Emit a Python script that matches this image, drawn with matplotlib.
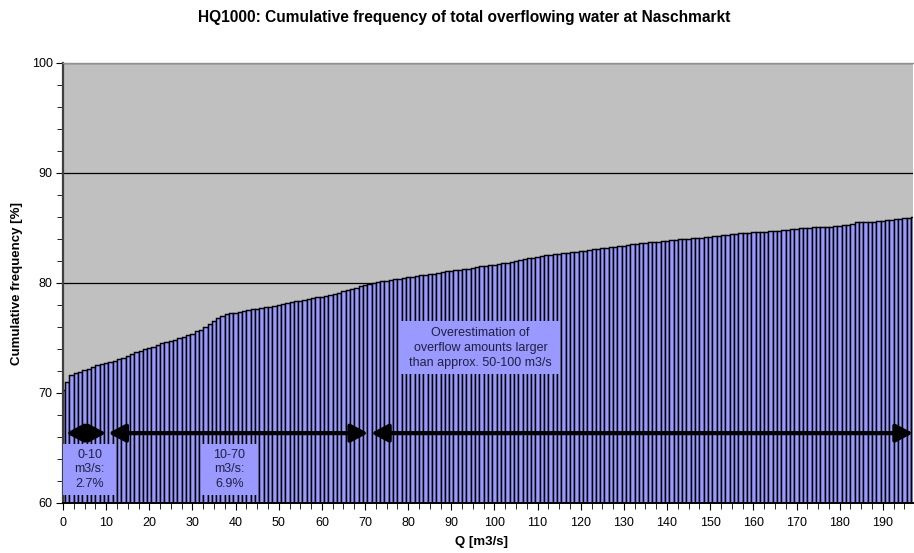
import matplotlib.pyplot as plt
from matplotlib.patches import Rectangle
from matplotlib.ticker import MultipleLocator

plt.rcParams['font.family'] = ['Liberation Sans', 'DejaVu Sans']

# cumulative frequency [%] per Q class (1 m3/s steps, 0..197)
freq = [
    70.3, 71.0, 71.6, 71.8, 71.9, 72.05, 72.2, 72.35, 72.5, 72.6,
    72.75, 72.85, 72.95, 73.1, 73.2, 73.4, 73.55, 73.7, 73.85, 74.0,
    74.1, 74.2, 74.35, 74.5, 74.65, 74.75, 74.85, 75.0, 75.1, 75.25,
    75.4, 75.6, 75.75, 76.0, 76.25, 76.5, 76.85, 77.0, 77.15, 77.25,
    77.3, 77.4, 77.45, 77.5, 77.6, 77.65, 77.75, 77.8, 77.85, 77.95,
    78.0, 78.1, 78.15, 78.25, 78.35, 78.4, 78.45, 78.55, 78.6, 78.7,
    78.75, 78.85, 78.9, 79.0, 79.1, 79.25, 79.35, 79.45, 79.55, 79.7,
    79.8, 79.9, 80.0, 80.05, 80.15, 80.2, 80.3, 80.35, 80.4, 80.45,
    80.5, 80.55, 80.6, 80.7, 80.75, 80.8, 80.85, 80.9, 81.0, 81.05,
    81.1, 81.15, 81.2, 81.25, 81.3, 81.35, 81.45, 81.5, 81.55, 81.6,
    81.65, 81.75, 81.8, 81.85, 81.95, 82.0, 82.1, 82.15, 82.25, 82.3,
    82.35, 82.45, 82.5, 82.55, 82.6, 82.65, 82.7, 82.75, 82.8, 82.85,
    82.9, 82.95, 83.0, 83.05, 83.1, 83.15, 83.2, 83.25, 83.3, 83.35,
    83.4, 83.45, 83.5, 83.55, 83.6, 83.65, 83.7, 83.72, 83.75, 83.8,
    83.85, 83.9, 83.93, 83.96, 84.0, 84.0, 84.05, 84.06, 84.1, 84.15,
    84.2, 84.25, 84.3, 84.35, 84.4, 84.43, 84.45, 84.5, 84.52, 84.55,
    84.6, 84.62, 84.65, 84.67, 84.7, 84.72, 84.75, 84.8, 84.85, 84.9,
    84.94, 84.96, 85.0, 85.02, 85.05, 85.07, 85.1, 85.1, 85.12, 85.15,
    85.2, 85.25, 85.3, 85.4, 85.5, 85.52, 85.55, 85.56, 85.58, 85.6,
    85.67, 85.7, 85.75, 85.8, 85.85, 85.88, 85.95, 86.0,
]
q = list(range(len(freq)))

# range arrows (start, end in m3/s)
arrows = [(0.7, 10.0), (10.5, 70.7), (71.4, 197.0)]
note_texts = ['0-10\nm3/s:\n2.7%', '10-70\nm3/s:\n6.9%',
              'Overestimation of\noverflow amounts larger\nthan approx. 50-100 m3/s']
# note boxes: x0, x1, y0, y1 (data units)
note_boxes = [(0, 12.3, 60.7, 65.4), (32.0, 45.2, 60.7, 65.4), (78.3, 115.2, 71.7, 76.5)]

bar_col = '#9999FF'

fig = plt.figure(figsize=(9.14, 5.53), dpi=100)
ax = fig.add_axes([63 / 914, 50 / 553, 850 / 914, 440 / 553])
ax.set_facecolor('#C0C0C0')

ax.bar(q, [f - 60 for f in freq], bottom=60, width=1.0, color=bar_col,
       edgecolor='black', linewidth=1.05, zorder=2)

ax.set_xlim(0, 197)
ax.set_ylim(60, 100)
ax.set_axisbelow(True)

ax.xaxis.set_major_locator(MultipleLocator(10))
ax.xaxis.set_minor_locator(MultipleLocator(2.5))
ax.yaxis.set_major_locator(MultipleLocator(10))
ax.yaxis.set_minor_locator(MultipleLocator(2))
ax.yaxis.grid(True, which='major', color='black', linewidth=0.9)
for tick in ax.yaxis.get_major_ticks():
    if tick.get_loc() in (60, 100):
        tick.gridline.set_visible(False)
ax.tick_params(axis='both', which='both', direction='out', labelsize=9,
               color='black')
ax.tick_params(which='major', length=5)
ax.tick_params(which='minor', length=4)
ax.tick_params(axis='y', which='major', pad=2.5)
ax.tick_params(axis='x', which='major', pad=5)

ax.spines['right'].set_visible(False)
ax.spines['top'].set_color('#909090')
ax.spines['top'].set_linewidth(1.0)
ax.spines['left'].set_color('#404040')
ax.spines['left'].set_linewidth(1.6)
ax.spines['bottom'].set_linewidth(1.4)

fig.text(0.527, 0.019, 'Q [m3/s]', ha='center', va='center',
         fontsize=9.5, fontweight='bold')
fig.text(17 / 914, 0.488, 'Cumulative frequency [%]', ha='center', va='center',
         rotation=90, fontsize=9.5, fontweight='bold')
fig.text(0.508, 0.969, 'HQ1000: Cumulative frequency of total overflowing water at Naschmarkt',
         ha='center', va='center', fontsize=11.2, fontweight='bold')

for a, b in arrows:
    ax.annotate('', xy=(b, 66.35), xytext=(a, 66.35),
                arrowprops=dict(arrowstyle='<|-|>,head_length=0.85,head_width=0.45',
                                mutation_scale=12, lw=3, color='black',
                                shrinkA=0, shrinkB=0), zorder=5)

for (x0, x1, y0, y1), txt in zip(note_boxes, note_texts):
    ax.add_patch(Rectangle((x0, y0), x1 - x0, y1 - y0, facecolor=bar_col,
                           edgecolor='none', zorder=6))
    ax.text((x0 + x1) / 2, (y0 + y1) / 2, txt, ha='center', va='center',
            fontsize=9, color='#202040', linespacing=1.3, zorder=7)

fig.savefig('out.png', dpi=100)
